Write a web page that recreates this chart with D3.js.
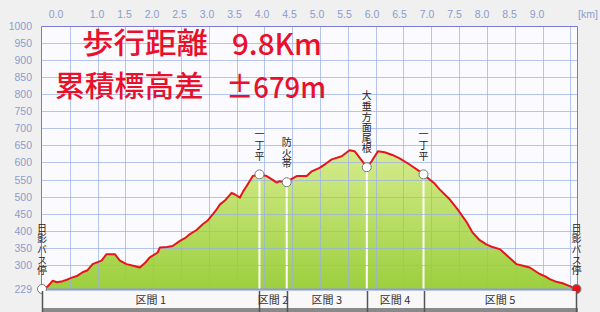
<!DOCTYPE html>
<meta charset="utf-8">
<style>
    body { margin: 0; background: #f0f0f0; }
    svg { display: block; }
    .vt { writing-mode: vertical-rl; text-orientation: upright; }
</style>
<svg width="600" height="312"></svg>
<script src="https://d3js.org/d3.v7.min.js"></script>
<script>

    // profile: distance [km] / elevation [m]
    var distKm = [0, 0.10, 0.19, 0.27, 0.37, 0.46, 0.55, 0.64, 0.73, 0.82, 0.91, 1.07, 1.16, 1.31, 1.40, 1.52, 1.64, 1.76,
        1.85, 1.94, 2.08, 2.12, 2.25, 2.35, 2.48, 2.57, 2.66, 2.78, 2.89, 2.98, 3.07, 3.13, 3.20, 3.30, 3.41, 3.47, 3.56,
        3.62, 3.68, 3.79, 3.91, 4.04, 4.12, 4.22, 4.27, 4.40, 4.49, 4.58, 4.76, 4.85, 4.99, 5.10, 5.21, 5.39, 5.53, 5.62,
        5.71, 5.84, 5.93, 6.04, 6.16, 6.30, 6.43, 6.61, 6.79, 6.86, 6.97, 7.06, 7.15, 7.33, 7.47, 7.64, 7.74, 7.87, 7.99,
        8.10, 8.23, 8.37, 8.53, 8.65, 8.77, 8.95, 9.05, 9.13, 9.25, 9.36, 9.48, 9.61];
    var elevM = [229, 236, 253, 249, 252, 257, 263, 268, 278, 284, 302, 312, 331, 331, 312, 302, 297, 292,
        305, 322, 336, 351, 352, 355, 370, 378, 390, 402, 419, 430, 448, 460, 477, 490, 511, 506, 497,
        516, 531, 560, 565, 560, 552, 541, 545, 542, 552, 560, 560, 574, 584, 596, 609, 618, 636, 633,
        614, 586, 604, 633, 630, 622, 612, 594, 574, 565, 550, 538, 521, 492, 463, 424, 395, 372, 360,
        352, 346, 326, 302, 297, 292, 273, 266, 258, 250, 246, 238, 229];

    var kmTicks = [0, 1, 1.5, 2, 2.5, 3, 3.5, 4, 4.5, 5, 5.5, 6, 6.5, 7, 7.5, 8, 8.5, 9];
    var kmGrid = d3.range(0.5, 9.6, 0.5);
    var elevTicks = [229, 300, 350, 400, 450, 500, 550, 600, 650, 700, 750, 800, 850, 900, 950, 1000];

    var wpNames = ["日影バス停", "一丁平", "防火帯", "大垂方面尾根", "一丁平", "日影バス停"];
    var wpKm = [0, 3.91, 4.40, 5.84, 6.86, 9.61];
    var wpElev = [229, 565, 542, 586, 565, 229];

    var sectionNames = ["区間 1", "区間 2", "区間 3", "区間 4", "区間 5"];

    var titleLine1 = ["歩行距離", "9.8Km"];
    var titleLine2 = ["累積標高差", "±679m"];

    var svg = d3.select("svg");

    var x = d3.scaleLinear().domain([0, 9.62]).range([42, 577]);
    var y = d3.scaleLinear().domain([229, 1000]).range([289, 26]);

    // plot background
    svg.append("rect").attr("x", 42).attr("y", 26).attr("width", 535).attr("height", 263).attr("fill", "#fafaff");

    // fill gradient
    var grad = svg.append("defs").append("linearGradient").attr("id", "g")
        .attr("x1", 0).attr("y1", 0).attr("x2", 0).attr("y2", 1);
    grad.append("stop").attr("offset", "0%").attr("stop-color", "#d6ec8c");
    grad.append("stop").attr("offset", "100%").attr("stop-color", "#9ccf3e");

    var pts = distKm.map(function (d, i) { return [d, elevM[i]]; });

    var area = d3.area()
        .x(function (d) { return x(d[0]); })
        .y0(y(229))
        .y1(function (d) { return y(d[1]); });

    var line = d3.line()
        .x(function (d) { return x(d[0]); })
        .y(function (d) { return y(d[1]); });

    svg.append("path").attr("d", area(pts)).attr("fill", "url(#g)");

    // white drop lines at waypoints
    wpKm.slice(1, 5).forEach(function (k, i) {
        svg.append("line")
            .attr("x1", x(k)).attr("x2", x(k))
            .attr("y1", y(wpElev[i + 1])).attr("y2", y(229))
            .attr("stroke", "#fff").attr("stroke-width", 2);
    });

    // grid
    var grid = svg.append("g").attr("stroke", "#98aee8").attr("stroke-opacity", 0.7).attr("stroke-width", 1);
    elevTicks.slice(1, -1).forEach(function (v) {
        grid.append("line").attr("x1", 42).attr("x2", 577)
            .attr("y1", Math.round(y(v)) + 0.5).attr("y2", Math.round(y(v)) + 0.5);
    });
    kmGrid.forEach(function (v) {
        grid.append("line").attr("y1", 26).attr("y2", 289)
            .attr("x1", Math.round(x(v)) + 0.5).attr("x2", Math.round(x(v)) + 0.5);
    });

    // border
    svg.append("path")
        .attr("d", "M41.5,289V26.5H577.5V289")
        .attr("fill", "none").attr("stroke", "#7a7ad2").attr("stroke-width", 1);
    svg.append("line").attr("x1", 41).attr("x2", 578).attr("y1", 289.5).attr("y2", 289.5)
        .attr("stroke", "#8a9ae0").attr("stroke-width", 2);

    // profile line
    svg.append("path").attr("d", line(pts)).attr("fill", "none")
        .attr("stroke", "#e8141c").attr("stroke-width", 2).attr("stroke-linejoin", "round");

    // axis labels
    var axisFont = "'Liberation Sans', sans-serif";
    svg.append("g").selectAll("text").data(kmTicks).enter().append("text")
        .attr("x", function (d) { return x(d) - 0.6 * d + (d === 0 ? 14 : 0); })
        .attr("y", 18)
        .attr("text-anchor", "middle")
        .attr("font-family", axisFont).attr("font-size", 10.5).attr("fill", "#8c9ccc")
        .text(function (d) { return d.toFixed(1); });
    svg.append("text").attr("x", 588).attr("y", 18).attr("text-anchor", "middle")
        .attr("font-family", axisFont).attr("font-size", 10.5).attr("fill", "#8c9ccc").text("[km]");

    svg.append("g").selectAll("text").data(elevTicks).enter().append("text")
        .attr("x", 32)
        .attr("y", function (d) { return y(d) + 4; })
        .attr("text-anchor", "end")
        .attr("font-family", axisFont).attr("font-size", 10.5).attr("fill", "#8c9ccc")
        .text(function (d) { return d; });

    // title
    var jp = "'Noto Sans CJK JP', sans-serif";
    function titleText(str, x0, yb, len) {
        svg.append("text").attr("x", x0).attr("y", yb)
            .attr("font-family", jp).attr("font-size", 29).attr("font-weight", 500)
            .attr("fill", "#e8102a")
            .attr("textLength", len).attr("lengthAdjust", "spacingAndGlyphs")
            .text(str);
    }
    titleText(titleLine1[0], 82, 54, 126);
    titleText(titleLine1[1], 232, 55, 90);
    titleText(titleLine2[0], 55, 97, 149);
    titleText(titleLine2[1], 226, 98, 100);

    // waypoint labels (vertical writing)
    svg.append("g").selectAll("text").data(wpNames).enter().append("text")
        .attr("class", "vt")
        .attr("x", function (d, i) { return x(wpKm[i]); })
        .attr("y", function (d, i) { return y(wpElev[i]) - 13; })
        .attr("text-anchor", "end")
        .attr("font-family", jp).attr("font-size", 10).attr("letter-spacing", 0.6)
        .attr("fill", "#222")
        .text(function (d) { return d; });

    // waypoint markers
    svg.append("g").selectAll("circle").data(wpKm).enter().append("circle")
        .attr("cx", function (d) { return x(d); })
        .attr("cy", function (d, i) { return y(wpElev[i]); })
        .attr("r", 4.5)
        .attr("fill", function (d, i) { return i === wpKm.length - 1 ? "#e8141c" : "#fff"; })
        .attr("stroke", "#777").attr("stroke-width", 1);

    // section bar
    svg.append("rect").attr("x", 42).attr("y", 291).attr("width", 535).attr("height", 17).attr("fill", "#f8f8f8");
    svg.append("rect").attr("x", 42).attr("y", 308).attr("width", 536).attr("height", 4).attr("fill", "#8a8a8a");
    wpKm.forEach(function (k) {
        svg.append("line").attr("x1", Math.round(x(k)) + 0.5).attr("x2", Math.round(x(k)) + 0.5)
            .attr("y1", 291).attr("y2", 312).attr("stroke", "#555").attr("stroke-width", 1.5);
    });
    sectionNames.forEach(function (s, i) {
        svg.append("text")
            .attr("x", (x(wpKm[i]) + x(wpKm[i + 1])) / 2)
            .attr("y", 304)
            .attr("text-anchor", "middle")
            .attr("font-family", jp).attr("font-size", 11).attr("fill", "#333")
            .text(s);
    });

</script>
